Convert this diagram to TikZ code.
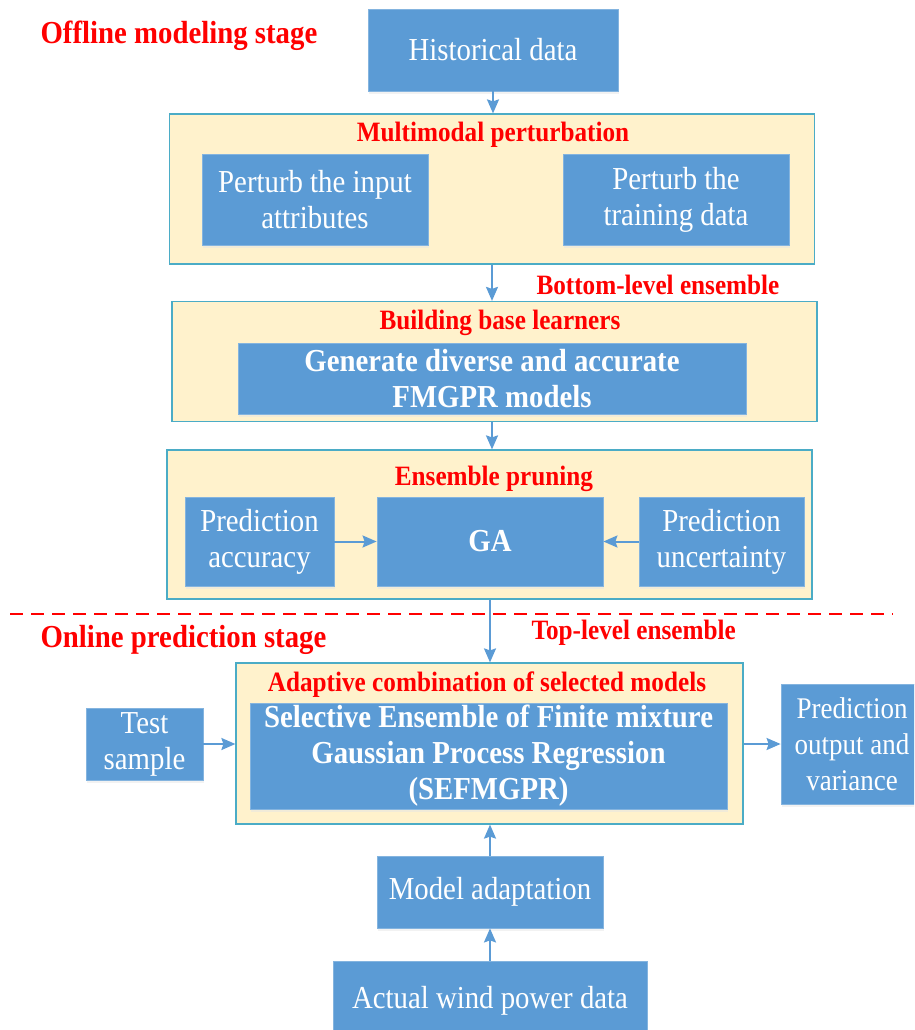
\documentclass[tikz,border=0pt]{standalone}
\usepackage{fontspec}
\setmainfont{Liberation Serif}[FakeStretch=0.9]
\usetikzlibrary{arrows.meta}
\usetikzlibrary{shadows}

\definecolor{boxblue}{RGB}{91,155,213}
\definecolor{grpfill}{RGB}{255,242,204}
\definecolor{grpline}{RGB}{75,172,198}

\tikzset{
  blk/.style={draw=boxblue!75!white, line width=0.8pt, fill=boxblue, text=white,
    align=center, inner sep=0pt, font=\fontsize{32}{36}\selectfont,
    drop shadow={shadow xshift=1pt, shadow yshift=-3pt, fill=gray!20}},
  grp/.style={draw=grpline, line width=1.2pt, fill=grpfill, inner sep=0pt},
  ttl/.style={text=red, font=\bfseries\fontsize{28}{30}\selectfont},
  stage/.style={text=red, font=\bfseries\fontsize{32}{34}\selectfont, anchor=west},
  arr/.style={-{Stealth[length=14pt,width=12pt,inset=2pt]}, draw=boxblue, line width=2pt}
}

\begin{document}
\begin{tikzpicture}[x=1pt,y=-1pt]
      \useasboundingbox (0,0) rectangle (914,1030);
      \clip (0,0) rectangle (914,1030);
      % offline stage
      \node[stage] (offl) at (37,36) {Offline modeling stage};
      \node[blk, minimum width=250pt, minimum height=82pt] (hist) at (493,50) {Historical data};
      \node[grp, minimum width=645pt, minimum height=150pt] (multi) at (492,189) {};
      \node[ttl] (multit) at (493,135) {Multimodal perturbation};
      \node[blk, minimum width=226pt, minimum height=91pt] (pinput) at (315,199.5) {Perturb the input\\attributes};
      \node[blk, minimum width=226pt, minimum height=91pt] (ptrain) at (676,199.5) {Perturb the\\training data};
      \node[ttl, anchor=west] (botlev) at (533,285) {Bottom-level ensemble};
      \node[grp, minimum width=645pt, minimum height=120pt] (base) at (494.5,361.5) {};
      \node[ttl] (baset) at (500,323) {Building base learners};
      \node[blk, minimum width=508pt, minimum height=71pt, font=\bfseries\fontsize{32}{36}\selectfont] (gen) at (492,378.5) {Generate diverse and accurate\\FMGPR models};
      \node[grp, minimum width=645pt, minimum height=149pt] (prune) at (489.5,524.5) {};
      \node[ttl] (prunet) at (494,479) {Ensemble pruning};
      \node[blk, minimum width=149pt, minimum height=89pt] (acc) at (259.5,541.5) {Prediction\\accuracy};
      \node[blk, minimum width=226pt, minimum height=89pt, font=\bfseries\fontsize{32}{36}\selectfont] (ga) at (490,541.5) {GA};
      \node[blk, minimum width=165pt, minimum height=89pt] (unc) at (721.5,541.5) {Prediction\\uncertainty};
      \draw[red, line width=1.5pt, dash pattern=on 13pt off 8pt] (10,614) -- (893,614);
      % online stage
      \node[stage] (onl) at (37,640) {Online prediction stage};
      \node[ttl, anchor=west] (toplev) at (528,633) {Top-level ensemble};
      \node[grp, minimum width=507pt, minimum height=161pt] (comb) at (489.5,743.5) {};
      \node[ttl] (combt) at (487,685) {Adaptive combination of selected models};
      \node[blk, minimum width=477pt, minimum height=106pt, font=\bfseries\fontsize{32}{36}\selectfont] (sef) at (488.5,756) {Selective Ensemble of Finite mixture\\Gaussian Process Regression\\(SEFMGPR)};
      \node[blk, minimum width=117pt, minimum height=72pt] (test) at (144.5,744) {Test\\sample};
      \node[blk, minimum width=142pt, minimum height=120pt, font=\fontsize{30}{36}\selectfont] (out) at (852,744) {Prediction\\output and\\variance};
      \node[blk, minimum width=226pt, minimum height=72pt] (adapt) at (490,892) {Model adaptation};
      \node[blk, minimum width=314pt, minimum height=80pt] (wind) at (490,1001) {Actual wind power data};
      % connectors
      \draw[arr] (hist.south) -- (hist.south |- multi.north);
      \draw[arr] (multi.south) -- (multi.south |- base.north);
      \draw[arr] (gen.south |- base.south) -- (gen.south |- prune.north);
      \draw[arr] (ga.south |- prune.south) -- (ga.south |- comb.north);
      \draw[arr] (acc.east) -- (ga.west);
      \draw[arr] (unc.west) -- (ga.east);
      \draw[arr] (test.east) -- (test.east -| comb.west);
      \draw[arr] (comb.east |- out.west) -- (out.west);
      \draw[arr] (adapt.north) -- (comb.south -| adapt.north);
      \draw[arr] (wind.north) -- (adapt.south);
\end{tikzpicture}
\end{document}
